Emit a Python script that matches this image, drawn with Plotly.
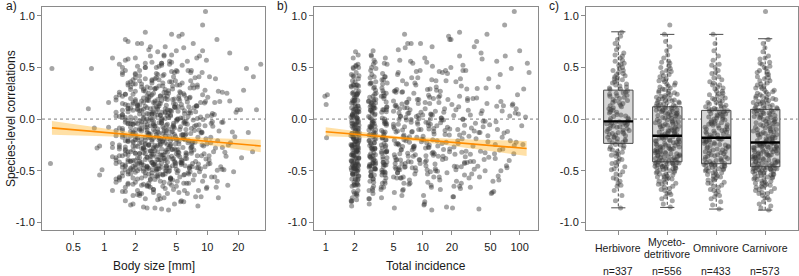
import plotly.graph_objects as go

# ------------------------------------------------------------------ data
guild_names = ["Herbivore", "Myceto-\ndetritivore", "Omnivore", "Carnivore"]
guild_n_labels = ["n=337", "n=556", "n=433", "n=573"]

# species-level correlations with body size [mm] and total incidence, per guild (batch 1)
herb_corr = [-0.86, -0.79, -0.74, -0.69, -0.65, -0.62, -0.60, -0.57, -0.54, -0.51, -0.48,
             -0.46, -0.43, -0.41, -0.39, -0.36, -0.34, -0.32, -0.30, -0.28, -0.26, -0.245,
             -0.23, -0.22, -0.21, -0.20, -0.18, -0.17, -0.16, -0.15, -0.14, -0.13, -0.12,
             -0.11, -0.10, -0.09, -0.08, -0.07, -0.06, -0.05, -0.045, -0.04, -0.03, -0.025,
             -0.02, -0.005, 0.01, 0.03, 0.04, 0.06, 0.07, 0.09, 0.10, 0.12, 0.13,
             0.15, 0.16, 0.18, 0.19, 0.21, 0.22, 0.23, 0.24, 0.25, 0.26, 0.275,
             0.29, 0.31, 0.33, 0.35, 0.37, 0.39, 0.41, 0.43, 0.45, 0.47, 0.49, 0.52,
             0.54, 0.57, 0.59, 0.62, 0.64, 0.67, 0.70, 0.73, 0.77, 0.80, 0.84]
herb_size = [3.1, 5.6, 1.9, 8.2, 2.6, 4.3, 12.5, 1.4, 3.7, 6.8,
             2.2, 9.5, 4.9, 1.7, 3.3, 15.2, 2.9, 5.2, 7.4, 2.4,
             0.9, 4.1, 10.8, 3.5, 1.6, 6.1, 2.7, 18.5, 3.9, 5.8,
             2.0, 8.9, 4.6, 1.3, 3.0, 7.0, 2.5, 11.3, 4.0, 6.4,
             1.8, 3.6, 13.8, 2.3, 5.0, 9.1, 2.8, 4.4, 1.5, 6.6,
             3.2, 21.0, 2.1, 4.8, 7.8, 3.4, 1.1, 5.4, 2.6, 10.1,
             3.8, 6.0, 1.9, 4.2, 14.0, 2.4, 3.1, 8.0, 5.1, 1.7,
             2.9, 12.0, 4.7, 3.3, 6.9, 2.2, 0.75, 5.7, 3.6, 9.8,
             2.0, 4.5, 16.5, 2.7, 3.9, 7.3, 1.6, 5.3, 2.5]
herb_inc = [5.1, 1.86, 10.2, 2.80, 21, 2.10, 53, 6.0, 3.80, 12,
            1.95, 25, 3.10, 7.1, 5.4, 14.5, 31, 4.10, 62, 2.18,
            8.2, 2.95, 11, 2.03, 23, 6.4, 1.02, 1.90, 3.95, 17,
            3.25, 38, 75, 2.14, 9.1, 13, 1.98, 2.85, 27, 5.0,
            4.25, 2.07, 10.8, 57, 44, 7.6, 15.6, 1.88, 12.6, 90,
            2.20, 22, 5.8, 3.05, 68, 3.00, 6.9, 29, 8.8, 2.00,
            3.75, 11.5, 3.20, 4.20, 1.93, 5.2, 110, 13.8, 2.12, 2.90,
            6.2, 48, 4.05, 1.84, 16, 26, 82, 2.05, 7.9, 3.15,
            10.5, 2.16, 40, 5.6, 34, 9.5, 19, 18.5, 24]

myc_corr = [-0.85, -0.82, -0.79, -0.77, -0.75, -0.73, -0.71, -0.69, -0.68, -0.66, -0.65, -0.63,
            -0.62, -0.61, -0.59, -0.58, -0.57, -0.56, -0.55, -0.54, -0.53, -0.52, -0.51, -0.50,
            -0.49, -0.48, -0.475, -0.47, -0.46, -0.455, -0.45, -0.44, -0.435, -0.43, -0.425, -0.42,
            -0.41, -0.40, -0.395, -0.39, -0.38, -0.375, -0.37, -0.36, -0.355, -0.35, -0.34, -0.335,
            -0.33, -0.32, -0.315, -0.31, -0.30, -0.295, -0.29, -0.28, -0.275, -0.27, -0.26, -0.255,
            -0.25, -0.24, -0.235, -0.23, -0.22, -0.215, -0.21, -0.20, -0.195, -0.19, -0.18, -0.175, -0.165,
            -0.155, -0.15, -0.14, -0.13, -0.125, -0.12, -0.11, -0.10, -0.095, -0.09, -0.08, -0.07,
            -0.065, -0.06, -0.05, -0.04, -0.035, -0.03, -0.02, -0.01, -0.005, 0.0, 0.01, 0.02,
            0.025, 0.03, 0.04, 0.05, 0.055, 0.06, 0.07, 0.08, 0.085, 0.09, 0.10, 0.115,
            0.125, 0.13, 0.14, 0.15, 0.16, 0.17, 0.18, 0.19, 0.20, 0.21, 0.22, 0.235, 0.25,
            0.26, 0.275, 0.29, 0.30, 0.32, 0.34, 0.35, 0.37, 0.39, 0.41, 0.43, 0.45, 0.47,
            0.49, 0.51, 0.54, 0.56, 0.59, 0.62, 0.66, 0.70, 0.75, 0.82, 0.91]
myc_size = [2.4, 4.8, 1.6, 3.5, 7.7, 2.1, 5.3, 1.2, 3.0, 9.9,
            2.7, 1.9, 6.3, 3.8, 1.4, 4.4, 2.3, 11.8, 3.2, 5.9,
            1.7, 2.9, 8.4, 4.0, 0.95, 3.4, 6.7, 2.0, 13.5, 2.6,
            4.6, 1.5, 3.1, 7.2, 2.2, 5.5, 1.8, 3.9, 10.4, 2.5,
            6.1, 1.3, 4.2, 2.8, 8.8, 3.6, 1.6, 5.0, 2.0, 14.8,
            3.3, 7.0, 1.9, 4.5, 2.4, 0.85, 5.8, 3.0, 9.2, 2.7,
            1.4, 4.9, 2.2, 6.5, 3.7, 1.7, 12.6, 2.9, 5.1, 3.5,
            2.1, 8.1, 4.3, 1.5, 3.2, 6.9, 2.6, 17.5, 1.8, 4.0,
            5.4, 2.3, 3.8, 1.1, 7.5, 2.8, 4.7, 1.9, 10.9, 3.4,
            2.5, 6.2, 1.6, 3.6, 5.2, 2.0, 8.6, 3.1, 1.3, 4.4,
            2.7, 11.2, 3.9, 1.7, 6.0, 2.3, 4.1, 0.7, 3.3, 7.9,
            2.1, 5.6, 1.5, 3.0, 9.6, 2.6, 4.6, 1.8, 6.8, 3.5,
            2.9, 15.5, 1.4, 4.2, 2.4, 7.4, 3.7, 1.9, 5.7, 2.2,
            3.1, 8.3, 2.0, 4.8, 1.6, 24.0, 3.4, 2.5, 6.4, 1.2,
            3.8, 5.0, 2.8, 1.7, 4.5, 9.0]
myc_inc = [17.6, 10.4, 1.83, 2.78, 20.5, 2.06, 52, 6.2, 3.72, 12.3,
           24, 1.97, 7.4, 3.12, 15.0, 2.15, 30, 5.0, 60, 4.08,
           11.2, 1.89, 2.92, 8.5, 22, 5.3, 2.11, 5.7, 3.92, 37,
           73, 2.01, 13.4, 6.6, 3.27, 27, 1.85, 10.9, 9.3, 43,
           2.19, 4.28, 5.2, 16.2, 2.83, 1.94, 21.5, 55, 7.0, 12.8,
           2.08, 28, 6.0, 3.06, 19.0, 3.83, 1.91, 8.0, 33, 88,
           11.7, 2.13, 5.5, 3.18, 47, 1.99, 14.1, 4.15, 9.8, 25.5,
           2.21, 66, 10.1, 6.4, 2.88, 1.87, 39, 7.7, 13.0, 3.77,
           23, 2.04, 5.1, 18.0, 3.22, 105, 1.96, 8.9, 35, 11.4,
           2.17, 4.02, 6.8, 26, 2.97, 15.5, 1.82, 5.9, 79, 31,
           12.1, 2.09, 7.2, 3.02, 41, 1.92, 4.22, 16.8, 5.4, 58,
           2.02, 20, 9.0, 10.6, 2.76, 2.14, 3.14, 29, 14.6, 0.98,
           95, 1.88, 6.1, 3.88, 11.9, 45, 2.18, 2.86, 8.3, 13.7,
           24.5, 1.95, 63, 5.6, 17.2, 3.29, 2.05, 120, 7.5, 4.12,
           2.94, 3.08, 12.5, 36, 6.5, 70]

omn_corr = [-0.87, -0.83, -0.80, -0.77, -0.75, -0.72, -0.70, -0.68, -0.66, -0.64, -0.62, -0.61,
            -0.59, -0.58, -0.56, -0.55, -0.53, -0.52, -0.51, -0.50, -0.49, -0.48, -0.47, -0.46,
            -0.455, -0.45, -0.44, -0.435,
            -0.43, -0.42, -0.41, -0.40, -0.39, -0.38, -0.37, -0.365, -0.355, -0.345, -0.335, -0.325,
            -0.315, -0.305, -0.30, -0.29, -0.28, -0.27, -0.26, -0.25, -0.245, -0.235, -0.225, -0.215,
            -0.21, -0.20, -0.195, -0.19, -0.185,
            -0.175, -0.165, -0.155, -0.145, -0.135, -0.125, -0.115, -0.105, -0.095, -0.085, -0.075,
            -0.065, -0.055, -0.045, -0.04, -0.03, -0.02, -0.01, 0.0, 0.01, 0.02, 0.03, 0.04, 0.05,
            0.055, 0.065, 0.075, 0.08,
            0.09, 0.10, 0.11, 0.12, 0.135, 0.15, 0.16, 0.175, 0.19, 0.205, 0.22, 0.235, 0.25, 0.27,
            0.29, 0.31, 0.33, 0.35, 0.38, 0.41, 0.44, 0.47, 0.50, 0.53, 0.57, 0.61, 0.66, 0.73, 0.82]
omn_size = [3.6, 1.8, 5.9, 2.5, 8.7, 4.1, 1.5, 3.0, 12.2, 2.3,
            6.6, 2.0, 4.6, 1.3, 3.3, 9.4, 2.7, 5.1, 1.7, 3.9,
            14.5, 2.4, 4.3, 7.1, 1.6, 3.1, 5.6, 2.1, 10.6, 2.9,
            4.8, 1.9, 3.5, 6.3, 2.6, 1.2, 8.0, 3.8, 2.2, 5.3,
            11.5, 2.8, 4.0, 1.4, 6.9, 3.2, 2.0, 16.0, 4.4, 2.5,
            7.6, 1.7, 3.7, 5.0, 2.3, 9.7, 3.0, 1.5, 4.9, 2.7,
            6.2, 3.4, 1.9, 13.0, 2.6, 4.2, 0.8, 5.5, 3.1, 8.3,
            2.1, 4.7, 1.6, 3.6, 7.3, 2.4, 5.8, 1.8, 10.0, 3.3,
            2.9, 6.0, 1.3, 4.5, 2.2, 19.5, 3.9, 2.6, 5.2, 1.7,
            3.5, 8.6, 2.0, 4.1, 6.7, 2.8, 1.4, 3.0, 12.8, 4.6,
            2.3, 5.4, 3.7, 1.9, 28.0, 3.2, 7.0, 2.5, 4.3, 1.6,
            3.8, 9.0, 2.1, 5.7]
omn_inc = [38, 10.3, 1.84, 2.82, 20.8, 2.09, 54, 6.3, 3.74, 12.2,
           25, 1.96, 7.3, 3.09, 14.8, 2.17, 32, 5.5, 4.06, 64,
           11.1, 2.02, 8.4, 22.5, 2.96, 1.90, 3.24, 6.1, 5.2, 3.90,
           2.12, 78, 9.2, 17.3, 2.87, 27.5, 1.98, 5.1, 13.2, 44,
           4.24, 2.06, 7.8, 3.04, 10.7, 21, 1.87, 5.7, 56, 15.8,
           92, 2.19, 6.7, 12.7, 3.19, 1.93, 3.81, 8.7, 30, 18.8,
           2.03, 69, 5.3, 34, 2.79, 11.6, 2.14, 6.5, 14.0, 49,
           4.13, 1.86, 7.6, 3.13, 16.4, 26, 2.10, 115, 5.9, 10.0,
           1.99, 40, 9.6, 13.5, 2.99, 3.97, 2.20, 6.9, 23.5, 84,
           11.8, 1.91, 5.0, 3.28, 36, 2.07, 1.04, 8.1, 15.2, 28.5,
           60, 1.95, 4.30, 12.4, 3.16, 3.86, 2.91, 19.5, 2.15, 5.8,
           24, 100, 7.0, 46]

carn_corr = [-0.88, -0.86, -0.84, -0.82, -0.80, -0.78, -0.76, -0.74, -0.72, -0.71, -0.70, -0.68,
             -0.67, -0.66, -0.65, -0.64, -0.63, -0.62, -0.61, -0.60, -0.59, -0.58, -0.57, -0.56,
             -0.55, -0.54, -0.535, -0.53, -0.52, -0.51, -0.505, -0.50, -0.49, -0.485, -0.48, -0.475,
             -0.47, -0.465,
             -0.455, -0.45, -0.44, -0.435, -0.43, -0.42, -0.415, -0.41, -0.40, -0.395, -0.39, -0.38,
             -0.375, -0.37, -0.36, -0.355, -0.35, -0.34, -0.335, -0.33, -0.32, -0.315, -0.31, -0.30,
             -0.295, -0.29, -0.28, -0.275, -0.27, -0.265, -0.26, -0.255, -0.25, -0.245, -0.24, -0.235,
             -0.232, -0.228,
             -0.22, -0.21, -0.20, -0.19, -0.18, -0.175, -0.165, -0.155, -0.145, -0.135, -0.13, -0.12,
             -0.11, -0.10, -0.09, -0.085, -0.075, -0.065, -0.055, -0.045, -0.04, -0.03, -0.02, -0.01,
             0.0, 0.005, 0.015, 0.025, 0.035, 0.045, 0.05, 0.06, 0.065, 0.07, 0.08, 0.085, 0.09,
             0.10, 0.11, 0.12, 0.13, 0.14, 0.15, 0.16, 0.17, 0.18, 0.19, 0.20, 0.21, 0.22, 0.235,
             0.25, 0.265, 0.28, 0.295, 0.31, 0.33, 0.35, 0.37, 0.39, 0.41, 0.43, 0.45, 0.47, 0.49,
             0.51, 0.53, 0.55, 0.58, 0.61, 0.65, 0.69, 0.73, 0.77, 1.04]
carn_size = [4.2, 2.6, 8.1, 1.9, 5.5, 3.3, 12.8, 2.2, 6.4, 3.0,
             1.6, 4.7, 9.8, 2.8, 3.7, 15.8, 2.4, 5.9, 1.3, 3.5,
             7.3, 2.1, 4.4, 11.0, 2.9, 0.9, 6.0, 3.9, 2.5, 18.0,
             3.2, 5.2, 1.8, 13.9, 8.6, 2.7, 4.0, 1.5, 6.8, 3.4,
             2.3, 10.2, 0.30, 4.9, 3.1, 7.7, 2.0, 5.6, 1.7, 3.8,
             21.5, 2.6, 4.5, 1.4, 6.2, 3.0, 9.3, 2.2, 4.1, 27.5,
             2.8, 5.0, 1.6, 3.6, 12.0, 2.4, 7.0, 4.3, 1.9, 3.3,
             8.9, 2.5, 5.3, 1.2, 3.9, 16.8, 2.9, 6.6, 2.1, 4.6,
             3.4, 10.8, 1.8, 5.8, 2.7, 4.0, 25.0, 3.1, 7.5, 2.0,
             1.5, 4.8, 3.7, 9.5, 2.3, 6.1, 1.7, 14.2, 3.0, 5.1,
             2.6, 8.0, 4.2, 1.4, 3.5, 11.7, 2.2, 6.9, 19.0, 3.9,
             4.4, 1.9, 30.0, 2.8, 5.7, 3.2, 7.9, 1.6, 4.7, 2.4,
             13.2, 3.6, 2.0, 6.3, 1.3, 4.1, 9.0, 2.7, 5.4, 22.5,
             3.1, 1.8, 7.2, 2.9, 4.9, 2.5, 10.5, 3.8, 1.5, 6.5,
             0.31, 2.1, 33.0, 4.5, 1.7, 8.4, 3.3, 5.9, 2.3, 12.4,
             9.6]
carn_inc = [12.4, 20.3, 1.85, 2.81, 10.5, 2.08, 3.76, 6.1, 51, 5.1,
            1.94, 15.2, 24.5, 31, 3.11, 2.16, 7.2, 4.09, 11.3, 22.3,
            61, 2.01, 5.4, 38.5, 2.93, 27, 1.89, 8.3, 17.8, 3.93,
            2.13, 44, 5.8, 3.26, 13.5, 1.97, 74, 6.5, 21.2, 10.8,
            2.84, 2.05, 9.4, 28.7, 4.27, 33.5, 1.83, 5.3, 16.0, 56,
            2.19, 48, 7.1, 3.07, 12.9, 1.92, 87, 3.79, 25.3, 18.9,
            39.5, 2.10, 6.0, 67, 3.21, 11.6, 2.00, 8.1, 14.3, 4.16,
            1.86, 108, 5.6, 23.2, 2.89, 2.15, 9.7, 80, 10.2, 35.5,
            3.85, 1.96, 6.3, 3.17, 13.1, 26.5, 2.21, 7.8, 17.0, 59,
            2.98, 31.8, 5.0, 11.5, 3.01, 1.90, 4.03, 8.8, 42, 15.7,
            12.0, 2.04, 6.7, 2.77, 20.9, 1.88, 97, 5.7, 16.5, 4.21,
            2.12, 29.5, 7.4, 10.6, 3.15, 2.87, 5.2, 1.01, 46, 14.7,
            64, 1.98, 9.1, 3.98, 11.8, 24, 2.07, 3.30, 6.2, 13.9,
            36.5, 1.84, 8.5, 2.95, 17.4, 2.17, 4.11, 5.5, 125, 27.8,
            1.93, 12.6, 3.10, 3.23, 41, 71, 2.03, 6.6, 7.6, 19.6,
            88]

# batch 2 (denser core of the clouds)
herb_corr_2 = [-0.64, -0.58, -0.53, -0.49, -0.45, -0.42, -0.38, -0.35, -0.33, -0.31, -0.29, -0.27, -0.25,
               -0.225, -0.205, -0.19, -0.175, -0.155, -0.14, -0.125, -0.105, -0.09, -0.075, -0.06, -0.045, -0.035,
               -0.015, 0.005, 0.025, 0.045, 0.065, 0.085, 0.11, 0.135, 0.155, 0.175, 0.2, 0.225, 0.255,
               0.285, 0.30, 0.32, 0.34, 0.36, 0.38, 0.40, 0.42, 0.44, 0.47, 0.50, 0.53, 0.56, 0.61]
herb_size_2 = [2.6, 4.4, 1.8, 3.2, 6.1, 2.3, 3.8, 5.2, 2.0, 2.9,
               4.8, 1.6, 3.5, 7.2, 2.5, 4.1, 2.8, 5.6, 1.9, 3.3,
               8.3, 2.2, 4.6, 3.0, 1.7, 5.9, 2.7, 3.9, 6.5, 2.4,
               3.6, 1.5, 4.9, 2.1, 9.4, 3.1, 5.3, 2.6, 4.0, 1.8,
               6.8, 3.4, 2.3, 4.5, 2.9, 7.6, 3.7, 2.0, 5.0, 3.2,
               1.4, 4.3, 2.8]
herb_inc_2 = [2.04, 3.08, 1.91, 5.6, 2.17, 3.93, 2.98, 1.87, 12.5, 2.11,
              3.21, 4.12, 1.96, 7.3, 2.83, 2.08, 3.86, 24, 1.85, 3.14,
              6.2, 2.19, 2.92, 4.22, 1.99, 15.3, 3.03, 2.13, 8.6, 1.89,
              3.78, 2.91, 2.06, 5.3, 3.26, 1.94, 33, 4.03, 2.15, 11.2,
              3.12, 1.83, 6.8, 2.01, 3.95, 2.87, 2.2, 18.0, 9.4, 1.92,
              4.29, 58, 2.96]

myc_corr_2 = [-0.72, -0.67, -0.63, -0.60, -0.58, -0.56, -0.545, -0.53, -0.515, -0.50, -0.49, -0.48,
              -0.47, -0.465, -0.455, -0.45, -0.445, -0.44, -0.43, -0.425, -0.42, -0.415,
              -0.405, -0.395, -0.385, -0.375, -0.365, -0.355, -0.345, -0.335, -0.325, -0.315, -0.305,
              -0.295, -0.285, -0.275, -0.265, -0.25, -0.24, -0.225, -0.21, -0.20, -0.185, -0.17,
              -0.16, -0.145, -0.135, -0.115, -0.105, -0.085, -0.075, -0.055, -0.045, -0.025, -0.015,
              0.005, 0.015, 0.035, 0.045, 0.06, 0.065, 0.075, 0.09, 0.095, 0.105, 0.11,
              0.125, 0.135, 0.145, 0.155, 0.165, 0.175, 0.185, 0.195, 0.21, 0.225, 0.24,
              0.255, 0.27, 0.285, 0.31, 0.33, 0.36, 0.38, 0.42, 0.46, 0.50, 0.55]
myc_size_2 = [2.2, 3.9, 1.7, 5.1, 2.8, 1.4, 3.3, 6.6, 2.0, 4.3,
              1.6, 2.6, 7.9, 3.6, 1.9, 4.9, 2.4, 3.0, 1.3, 5.7,
              2.9, 4.1, 1.8, 3.4, 9.7, 2.1, 5.4, 1.5, 3.7, 2.5,
              6.2, 1.7, 3.1, 4.6, 2.3, 1.2, 7.1, 2.7, 3.5, 1.9,
              4.4, 2.0, 5.8, 3.2, 1.6, 2.8, 8.7, 3.8, 2.2, 1.4,
              4.7, 2.6, 3.0, 6.0, 1.8, 3.6, 2.4, 11.0, 1.5, 4.2,
              2.9, 5.2, 2.1, 3.3, 1.7, 7.4, 2.5, 4.0, 1.9, 3.1,
              6.4, 2.3, 1.3, 4.8, 2.7, 3.5, 1.6, 5.5, 2.0, 3.9,
              2.6, 8.0, 1.8, 3.4, 2.2, 4.5, 1.5, 2.9]
myc_inc_2 = [1.98, 3.04, 2.12, 4.07, 1.86, 6.3, 2.95, 2.07, 3.82, 13.6,
             2.16, 3.19, 1.93, 5.2, 2.82, 2.02, 4.18, 1.88, 27, 3.09,
             2.09, 7.6, 3.24, 1.95, 3.9, 2.18, 2.89, 10.8, 1.84, 5.8,
             3.13, 2.05, 4.26, 1.9, 8.1, 2.99, 2.14, 3.75, 1.97, 17.5,
             2.79, 2.2, 6.9, 3.06, 1.82, 4.0, 2.11, 5.5, 3.27, 1.92,
             42, 2.03, 3.16, 4.14, 2.17, 9.2, 2.86, 1.89, 12.2, 3.01,
             2.08, 5.0, 3.87, 1.96, 3.22, 6.5, 2.15, 2.93, 85, 1.85,
             4.2, 3.11, 2.0, 7.2, 2.84, 15.0, 1.94, 3.96, 2.19, 5.4,
             3.18, 2.06, 22, 3.8, 1.91, 8.6, 2.97, 11.0]

omn_corr_2 = [-0.74, -0.69, -0.65, -0.62, -0.59, -0.57, -0.55, -0.535, -0.52, -0.505, -0.49, -0.48,
              -0.47, -0.46, -0.45, -0.445, -0.438,
              -0.425, -0.41, -0.395, -0.38, -0.36, -0.345, -0.33, -0.315, -0.3, -0.285, -0.27,
              -0.255, -0.24, -0.23, -0.215, -0.2, -0.19,
              -0.17, -0.155, -0.14, -0.125, -0.11, -0.095, -0.08, -0.06, -0.05, -0.035, -0.015,
              0.0, 0.015, 0.035, 0.05, 0.065, 0.078,
              0.095, 0.105, 0.115, 0.13, 0.145, 0.16, 0.18, 0.2, 0.22, 0.245, 0.27, 0.3, 0.33,
              0.36, 0.4, 0.45, 0.52]
omn_size_2 = [3.4, 2.1, 5.0, 1.7, 2.8, 4.4, 1.5, 3.7, 6.5, 2.4,
              1.9, 3.2, 8.2, 2.6, 4.0, 1.6, 3.0, 5.6, 2.2, 1.3,
              4.7, 2.9, 3.5, 7.0, 1.8, 2.5, 4.2, 1.4, 3.1, 9.9,
              2.3, 5.3, 1.7, 3.8, 2.0, 6.1, 2.7, 4.5, 1.5, 3.3,
              2.6, 7.8, 1.9, 3.6, 2.2, 5.1, 1.6, 4.1, 2.9, 3.0,
              6.8, 2.4, 1.8, 4.8, 3.4, 2.1, 11.8, 2.7, 3.9, 1.5,
              5.9, 2.5, 3.2, 1.7, 4.3, 2.0, 8.9, 3.6]
omn_inc_2 = [2.1, 3.05, 1.87, 3.84, 2.14, 5.9, 2.9, 1.99, 4.11, 14.2,
             2.05, 3.2, 1.83, 6.6, 2.85, 2.18, 3.98, 1.93, 31, 3.1,
             2.02, 8.0, 3.25, 1.9, 3.76, 2.16, 2.95, 11.4, 1.86, 5.3,
             3.15, 2.07, 4.19, 1.96, 7.3, 2.8, 2.12, 3.91, 2.0, 19.0,
             2.88, 2.2, 5.6, 3.0, 1.85, 4.05, 2.09, 9.0, 3.23, 1.95,
             66, 2.03, 3.12, 4.25, 2.15, 6.1, 2.93, 1.89, 12.9, 3.07,
             2.11, 5.1, 3.8, 1.92, 3.28, 7.7, 2.06, 26]

carn_corr_2 = [-0.76, -0.72, -0.69, -0.66, -0.64, -0.62, -0.60, -0.585, -0.57, -0.56, -0.55, -0.54,
               -0.53, -0.52, -0.51, -0.50, -0.495, -0.49, -0.485, -0.48, -0.475, -0.47, -0.465,
               -0.455, -0.445, -0.435, -0.425, -0.415, -0.405, -0.395, -0.385, -0.375, -0.365, -0.355,
               -0.345, -0.335, -0.325, -0.315, -0.305, -0.295, -0.285, -0.275, -0.265, -0.255, -0.245,
               -0.235,
               -0.215, -0.205, -0.19, -0.175, -0.16, -0.15, -0.14, -0.125, -0.115, -0.1, -0.08, -0.07,
               -0.05, -0.035, -0.025, -0.005, 0.01, 0.02, 0.04, 0.055, 0.07, 0.085,
               0.1, 0.11, 0.12, 0.135, 0.145, 0.16, 0.175, 0.19, 0.205, 0.22, 0.24, 0.26, 0.28, 0.3,
               0.32, 0.34, 0.37, 0.4, 0.43, 0.46, 0.5, 0.54, 0.59]
carn_size_2 = [3.8, 2.3, 6.0, 1.6, 4.5, 2.7, 9.0, 3.1, 1.9, 5.4,
               2.5, 7.5, 3.5, 1.5, 4.2, 2.1, 12.5, 2.9, 5.0, 3.3,
               1.8, 6.7, 2.6, 4.0, 2.0, 8.2, 3.6, 1.4, 5.7, 2.8,
               4.6, 2.2, 3.2, 10.4, 1.7, 6.3, 2.4, 3.9, 1.6, 5.2,
               3.0, 14.0, 2.1, 4.4, 2.7, 7.1, 1.9, 3.4, 5.9, 2.5,
               1.3, 4.8, 3.7, 8.8, 2.3, 6.2, 1.8, 3.1, 4.1, 2.0,
               11.2, 2.9, 5.5, 1.5, 3.5, 2.6, 7.7, 4.3, 1.7, 3.0,
               6.6, 2.2, 4.9, 1.9, 16.5, 3.3, 2.4, 5.3, 1.6, 3.8,
               9.5, 2.8, 4.6, 2.0, 6.9, 3.2, 1.5, 5.1, 2.5, 3.6,
               7.9]
carn_inc_2 = [1.88, 3.07, 2.15, 3.95, 1.95, 6.4, 2.86, 2.04, 4.17, 13.0,
              2.19, 3.17, 1.9, 5.5, 2.94, 2.09, 3.79, 1.84, 34, 3.24,
              2.01, 7.8, 2.81, 1.97, 4.08, 2.13, 3.02, 10.6, 1.86, 5.9,
              3.14, 2.07, 3.88, 1.93, 8.4, 2.91, 2.17, 4.23, 1.99, 16.4,
              3.2, 2.11, 6.2, 2.84, 1.82, 3.99, 2.05, 5.1, 3.29, 1.91,
              47, 2.2, 3.1, 4.1, 2.03, 9.6, 2.97, 1.87, 12.0, 3.05,
              2.1, 5.7, 3.83, 1.94, 3.19, 7.0, 2.16, 2.89, 92, 1.85,
              4.27, 3.12, 2.0, 6.8, 2.78, 18.2, 1.96, 3.92, 2.12, 5.3,
              3.26, 2.06, 25, 3.86, 1.89, 8.9, 2.99, 14.8, 2.18, 4.02,
              1.92]

# boxplot statistics (panel c)
box_lower = [-0.858, -0.854, -0.870, -0.880]
box_q1 = [-0.235, -0.413, -0.432, -0.461]
box_median = [-0.022, -0.161, -0.181, -0.226]
box_q3 = [0.280, 0.119, 0.084, 0.094]
box_upper = [0.844, 0.819, 0.819, 0.777]

# fitted regression lines and 95% bands
fit_a_x = [0.31, 33]
fit_a_y = [-0.085, -0.260]
band_a_x = [0.31, 0.6, 1, 2, 3.5, 6, 12, 20, 33]
band_a_lo = [-0.151, -0.160, -0.167, -0.179, -0.195, -0.219, -0.259, -0.289, -0.321]
band_a_hi = [-0.019, -0.060, -0.091, -0.131, -0.157, -0.173, -0.185, -0.193, -0.199]

fit_b_x = [1, 118]
fit_b_y = [-0.123, -0.284]
band_b_x = [1, 2, 4, 6, 10, 20, 40, 70, 118]
band_b_lo = [-0.166, -0.175, -0.188, -0.200, -0.221, -0.257, -0.296, -0.326, -0.356]
band_b_hi = [-0.080, -0.117, -0.152, -0.168, -0.180, -0.191, -0.200, -0.206, -0.212]

size_ticks = [0.5, 1, 2, 5, 10, 20]
inc_ticks = [1, 2, 5, 10, 20, 50, 100]
corr_ticks = [-1.0, -0.5, 0.0, 0.5, 1.0]
corr_tick_text = ["-1.0", "-0.5", "0.0", "0.5", "1.0"]

# ------------------------------------------------------------------ figure
W, H = 799, 276
FONT = "Liberation Sans, Arial, Helvetica, sans-serif"
TXT = "#1a1a1a"
AX = "#8a8a8a"
PT_COLOR = "rgba(55,55,55,0.45)"
PT_SIZE = 5

guild_corr = [herb_corr + herb_corr_2, myc_corr + myc_corr_2,
              omn_corr + omn_corr_2, carn_corr + carn_corr_2]
guild_size = [herb_size + herb_size_2, myc_size + myc_size_2,
              omn_size + omn_size_2, carn_size + carn_size_2]
guild_inc = [herb_inc + herb_inc_2, myc_inc + myc_inc_2,
             omn_inc + omn_inc_2, carn_inc + carn_inc_2]

all_corr_a, all_size = [], []
all_corr_b, all_inc = [], []
for c, s, i in zip(guild_corr, guild_size, guild_inc):
    for cc, ss in zip(c, s):
        all_corr_a.append(cc)
        all_size.append(ss)
    for cc, ii in zip(c, i):
        all_corr_b.append(cc)
        all_inc.append(ii)

fig = go.Figure()

# panel a
fig.add_trace(go.Scatter(x=all_size, y=all_corr_a, mode="markers", xaxis="x", yaxis="y",
                         marker=dict(size=PT_SIZE, color=PT_COLOR, line=dict(width=0)),
                         showlegend=False, hoverinfo="skip"))
fig.add_trace(go.Scatter(x=band_a_x + band_a_x[::-1], y=band_a_hi + band_a_lo[::-1],
                         fill="toself", fillcolor="rgba(255,165,0,0.35)", mode="lines",
                         line=dict(width=0), xaxis="x", yaxis="y", showlegend=False,
                         hoverinfo="skip"))
fig.add_trace(go.Scatter(x=fit_a_x, y=fit_a_y, mode="lines", line=dict(color="#FF8C00", width=1.6),
                         xaxis="x", yaxis="y", showlegend=False, hoverinfo="skip"))

# panel b
fig.add_trace(go.Scatter(x=all_inc, y=all_corr_b, mode="markers", xaxis="x2", yaxis="y2",
                         marker=dict(size=PT_SIZE, color=PT_COLOR, line=dict(width=0)),
                         showlegend=False, hoverinfo="skip"))
fig.add_trace(go.Scatter(x=band_b_x + band_b_x[::-1], y=band_b_hi + band_b_lo[::-1],
                         fill="toself", fillcolor="rgba(255,165,0,0.35)", mode="lines",
                         line=dict(width=0), xaxis="x2", yaxis="y2", showlegend=False,
                         hoverinfo="skip"))
fig.add_trace(go.Scatter(x=fit_b_x, y=fit_b_y, mode="lines", line=dict(color="#FF8C00", width=1.6),
                         xaxis="x2", yaxis="y2", showlegend=False, hoverinfo="skip"))

# panel c
pos = list(range(1, len(guild_names) + 1))
BOXW = 0.6
fig.add_trace(go.Box(x=pos, q1=box_q1, median=box_median, q3=box_q3,
                     lowerfence=box_q1, upperfence=box_q3, width=BOXW, whiskerwidth=0,
                     fillcolor="#d6d6d6", line=dict(color="#4a4a4a", width=1),
                     boxpoints=False, xaxis="x3", yaxis="y3", showlegend=False,
                     hoverinfo="skip"))
for p, vals in zip(pos, guild_corr):
    fig.add_trace(go.Box(x=[p] * len(vals), y=vals, boxpoints="all", jitter=0.85, pointpos=0,
                         width=BOXW, fillcolor="rgba(0,0,0,0)",
                         line=dict(color="rgba(0,0,0,0)", width=0),
                         marker=dict(size=PT_SIZE, color=PT_COLOR, line=dict(width=0)),
                         xaxis="x3", yaxis="y3", showlegend=False, hoverinfo="skip"))
wx, wy = [], []
for p, lo, q1, q3, hi in zip(pos, box_lower, box_q1, box_q3, box_upper):
    wx += [p, p, None, p, p, None]
    wy += [q3, hi, None, q1, lo, None]
fig.add_trace(go.Scatter(x=wx, y=wy, mode="lines", line=dict(color="#4a4a4a", width=1, dash="3px,2px"),
                         xaxis="x3", yaxis="y3", showlegend=False, hoverinfo="skip"))
cx, cy = [], []
CAP = 0.145
for p, lo, hi in zip(pos, box_lower, box_upper):
    cx += [p - CAP, p + CAP, None, p - CAP, p + CAP, None]
    cy += [hi, hi, None, lo, lo, None]
fig.add_trace(go.Scatter(x=cx, y=cy, mode="lines", line=dict(color="#4a4a4a", width=1),
                         xaxis="x3", yaxis="y3", showlegend=False, hoverinfo="skip"))
mx, my = [], []
for p, m in zip(pos, box_median):
    mx += [p - BOXW / 2, p + BOXW / 2, None]
    my += [m, m, None]
fig.add_trace(go.Scatter(x=mx, y=my, mode="lines", line=dict(color="#000000", width=2.4),
                         xaxis="x3", yaxis="y3", showlegend=False, hoverinfo="skip"))

# ------------------------------------------------------------------ layout
ydom = [(H - 230) / H, (H - 7.3) / H]
YRANGE = [-1.0725, 1.081]


def xaxis_common(**kw):
    d = dict(showline=True, mirror=True, linecolor=AX, linewidth=1, ticks="outside",
             ticklen=4, tickwidth=1, tickcolor=AX, showgrid=False, zeroline=False,
             tickfont=dict(family=FONT, size=11, color=TXT), ticklabelstandoff=3)
    d.update(kw)
    return d


def yaxis_common(**kw):
    d = dict(showline=True, mirror=True, linecolor=AX, linewidth=1, ticks="outside",
             ticklen=4, tickwidth=1, tickcolor=AX, showgrid=False, zeroline=False,
             range=YRANGE, domain=ydom, tickmode="array", tickvals=corr_ticks,
             ticktext=corr_tick_text, tickfont=dict(family=FONT, size=11, color=TXT))
    d.update(kw)
    return d


fig.update_layout(
    width=W, height=H, margin=dict(l=0, r=0, t=0, b=0),
    paper_bgcolor="white", plot_bgcolor="white", boxmode="overlay",
    font=dict(family=FONT, size=11, color=TXT),
    xaxis=xaxis_common(type="log", range=[-0.605, 1.560], domain=[42 / W, 265 / W],
                       tickmode="array", tickvals=size_ticks,
                       ticktext=[f"{v:g}" for v in size_ticks], anchor="y"),
    yaxis=yaxis_common(anchor="x"),
    xaxis2=xaxis_common(type="log", range=[-0.121, 2.189], domain=[314 / W, 538 / W],
                        tickmode="array", tickvals=inc_ticks,
                        ticktext=[f"{v:g}" for v in inc_ticks], anchor="y2"),
    yaxis2=yaxis_common(anchor="x2"),
    xaxis3=xaxis_common(range=[0.34, 4.66], domain=[586 / W, 797.5 / W], tickmode="array",
                        tickvals=pos, showticklabels=False, anchor="y3"),
    yaxis3=yaxis_common(anchor="x3"),
)

# dashed zero lines
for xr, yr in [("x", "y"), ("x2", "y2"), ("x3", "y3")]:
    fig.add_shape(type="line", xref=f"{xr} domain", x0=0, x1=1, yref=yr, y0=0, y1=0,
                  line=dict(color="#7a7a7a", width=1, dash="3px,3px"), layer="below")


def ann(text, xpx, ypx, size=12, xref="paper", angle=0, xanchor="center"):
    x = xpx / W if xref == "paper" else xpx
    fig.add_annotation(text=text, x=x, y=(H - ypx) / H, xref=xref, yref="paper",
                       showarrow=False, xanchor=xanchor, yanchor="middle", textangle=angle,
                       font=dict(family=FONT, size=size, color=TXT))


ann("a)", 11.5, 6.5)
ann("b)", 282.5, 6.5)
ann("c)", 553.5, 6.5)
ann("Species-level correlations", 10.5, 118.6, angle=-90)
ann("Body size [mm]", 153.5, 265.5)
ann("Total incidence", 426, 265.5)
for p, name, nl in zip(pos, guild_names, guild_n_labels):
    lines = name.split("\n")
    if len(lines) == 1:
        ann(lines[0], p, 247.5, size=10.5, xref="x3")
    else:
        ann(lines[0], p, 242.0, size=10.5, xref="x3")
        ann(lines[1], p, 253.5, size=10.5, xref="x3")
    ann(nl, p, 271, size=10.5, xref="x3")

fig.write_html("out.html", config={"displayModeBar": False},
               post_script="document.body.style.margin='0px';document.body.style.padding='0px';"
                           "document.body.style.overflow='hidden';")
